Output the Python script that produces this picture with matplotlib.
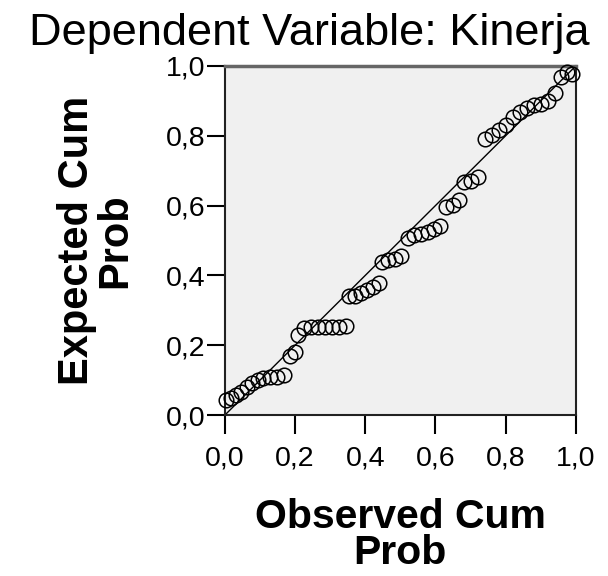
import numpy as np
import matplotlib
matplotlib.use("Agg")
from matplotlib import pyplot as plt

# observed vs expected cumulative probabilities
observed = [0.003, 0.017, 0.031, 0.046, 0.063, 0.077, 0.094, 0.109, 0.129, 0.149,
            0.169, 0.186, 0.200, 0.209, 0.226, 0.246, 0.266, 0.286, 0.306, 0.326,
            0.346, 0.354, 0.371, 0.389, 0.406, 0.423, 0.440, 0.449, 0.466, 0.486,
            0.503, 0.523, 0.540, 0.560, 0.580, 0.597, 0.614, 0.631, 0.649, 0.666,
            0.680, 0.700, 0.720, 0.740, 0.760, 0.780, 0.800, 0.820, 0.840, 0.860,
            0.880, 0.900, 0.920, 0.940, 0.957, 0.974, 0.990]
expected = [0.043, 0.049, 0.057, 0.066, 0.080, 0.092, 0.100, 0.106, 0.109, 0.109,
            0.115, 0.169, 0.180, 0.229, 0.249, 0.252, 0.252, 0.252, 0.252, 0.252,
            0.255, 0.341, 0.341, 0.350, 0.358, 0.367, 0.378, 0.438, 0.444, 0.447,
            0.456, 0.507, 0.516, 0.519, 0.524, 0.533, 0.542, 0.596, 0.602, 0.616,
            0.668, 0.670, 0.682, 0.791, 0.802, 0.817, 0.831, 0.854, 0.868, 0.880,
            0.888, 0.891, 0.900, 0.923, 0.968, 0.983, 0.977]
ticks = [0.0, 0.2, 0.4, 0.6, 0.8, 1.0]
tick_labels = ["0,0", "0,2", "0,4", "0,6", "0,8", "1,0"]

plt.rcParams['font.family'] = ['Liberation Sans', 'DejaVu Sans']

fig = plt.figure(figsize=(6.08, 5.76), dpi=100)
ax = fig.add_axes([0.370, 0.2795, 0.577, 0.606])
ax.set_facecolor("#f0f0f0")

ax.plot([0, 1], [0, 1], color="black", linewidth=1.0, zorder=2)
ax.plot(observed, expected, linestyle="none", marker="o", markersize=10.5,
        markerfacecolor="none", markeredgecolor="black", markeredgewidth=1.1,
        zorder=3, clip_on=False)

ax.set_xlim(0, 1)
ax.set_ylim(0, 1)
ax.set_xticks(ticks)
ax.set_xticklabels(tick_labels)
ax.set_yticks(ticks)
ax.set_yticklabels(tick_labels)
ax.tick_params(labelsize=20.5, width=1.5, direction="out")
ax.tick_params(axis="x", length=14, pad=8)
ax.tick_params(axis="y", length=13, pad=1)
for s in ax.spines.values():
    s.set_linewidth(1.5)
    s.set_color("#222222")
ax.spines["top"].set_color("#666666")
ax.spines["top"].set_linewidth(2.5)

fig.text(0.508, 0.922, "Dependent Variable: Kinerja", fontsize=32.5,
         ha="center", va="baseline")
ax.set_xlabel("Observed Cum\nProb", fontsize=29.5, fontweight="bold",
              linespacing=0.94, labelpad=19)
ax.set_ylabel("Expected Cum\nProb", fontsize=30, fontweight="bold",
              linespacing=0.94, labelpad=22)

fig.savefig("out.png", dpi=100)
